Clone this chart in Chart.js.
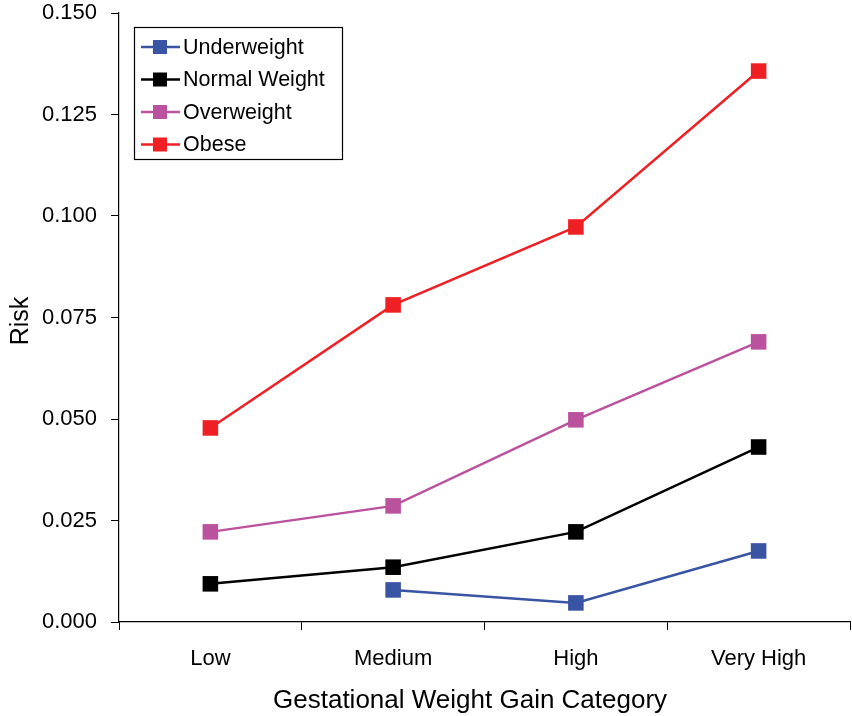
<!DOCTYPE html>
<html><head><meta charset="utf-8">
<script src="https://cdn.jsdelivr.net/npm/chart.js@4/dist/chart.umd.min.js"></script>
<style>html,body{margin:0;padding:0;background:#fff;}canvas{display:block;}</style>
</head><body>
<canvas id="c" width="852" height="716"></canvas>
<script>
const categories = ["Low", "Medium", "High", "Very High"];
const underweight = [null, 0.0079, 0.0047, 0.0175];
const normalWeight = [0.0094, 0.0135, 0.0222, 0.0431];
const overweight = [0.0222, 0.0286, 0.0498, 0.0690];
const obese = [0.0478, 0.0781, 0.0973, 0.1357];
const seriesNames = ["Underweight", "Normal Weight", "Overweight", "Obese"];
const seriesColors = ["#3A54A4", "#000000", "#BA529E", "#EE2024"];
const yTicks = [0, 0.025, 0.05, 0.075, 0.1, 0.125, 0.15];

const FONT = "'Liberation Sans', Arial, sans-serif";
const seriesData = [underweight, normalWeight, overweight, obese];

const legendPlugin = {
  id: 'boxLegend',
  afterDraw(chart) {
    const ctx = chart.ctx;
    ctx.save();
    const x0 = 134.5, y0 = 27.5, w = 208, h = 132;
    ctx.strokeStyle = '#000'; ctx.lineWidth = 1.2;
    ctx.strokeRect(x0, y0, w, h);
    ctx.font = "21.5px " + FONT;
    ctx.textBaseline = 'middle';
    ctx.textAlign = 'left';
    chart.data.datasets.forEach((ds, i) => {
      const cy = 47 + i * 32.5;
      ctx.strokeStyle = ds.borderColor; ctx.lineWidth = 2.5;
      ctx.beginPath(); ctx.moveTo(141, cy); ctx.lineTo(180, cy); ctx.stroke();
      ctx.fillStyle = ds.backgroundColor;
      ctx.fillRect(153, cy - 7, 14, 14);
      ctx.fillStyle = '#000';
      ctx.fillText(ds.label, 183, cy + 1);
    });
    ctx.restore();
  }
};

new Chart(document.getElementById('c'), {
  type: 'line',
  data: {
    labels: categories,
    datasets: seriesData.map((d, i) => ({
      label: seriesNames[i],
      data: d,
      borderColor: seriesColors[i],
      backgroundColor: seriesColors[i],
      borderWidth: 2.5,
      pointStyle: 'rect',
      pointRadius: 11,
      pointHoverRadius: 11,
      pointBorderWidth: 0,
      spanGaps: false,
      tension: 0
    }))
  },
  options: {
    responsive: false,
    animation: false,
    events: [],
    layout: { autoPadding: false, padding: { top: 13, right: 2, left: 0, bottom: 0 } },
    plugins: { legend: { display: false }, tooltip: { enabled: false } },
    scales: {
      x: {
        offset: true,
        grid: { offset: true, drawOnChartArea: false, drawTicks: true, tickLength: 8, color: '#000', lineWidth: 1 },
        border: { display: true, color: '#000', width: 1.2 },
        ticks: { color: '#000', font: { family: FONT, size: 22 }, padding: 16, maxRotation: 0 },
        title: { display: true, text: 'Gestational Weight Gain Category    ', color: '#000', font: { family: FONT, size: 26 }, padding: { top: 12, bottom: 0 } },
        afterFit(s) { s.height = 94; s.paddingLeft = 0; s.paddingRight = 0; }
      },
      y: {
        min: 0, max: 0.15,
        afterBuildTicks(s) { s.ticks = yTicks.map(v => ({ value: v })); },
        grid: { drawOnChartArea: false, drawTicks: true, tickLength: 8, color: '#000', lineWidth: 1 },
        border: { display: true, color: '#000', width: 1.2 },
        ticks: { color: '#000', font: { family: FONT, size: 22 }, padding: 14, callback: v => Number(v).toFixed(3) },
        title: { display: true, text: 'Risk ', color: '#000', font: { family: FONT, size: 25 }, padding: { top: 6, bottom: 2 } },
        afterFit(s) { s.width = 119; s.paddingTop = 0; s.paddingBottom = 0; }
      }
    }
  },
  plugins: [legendPlugin]
});
</script>
</body></html>
